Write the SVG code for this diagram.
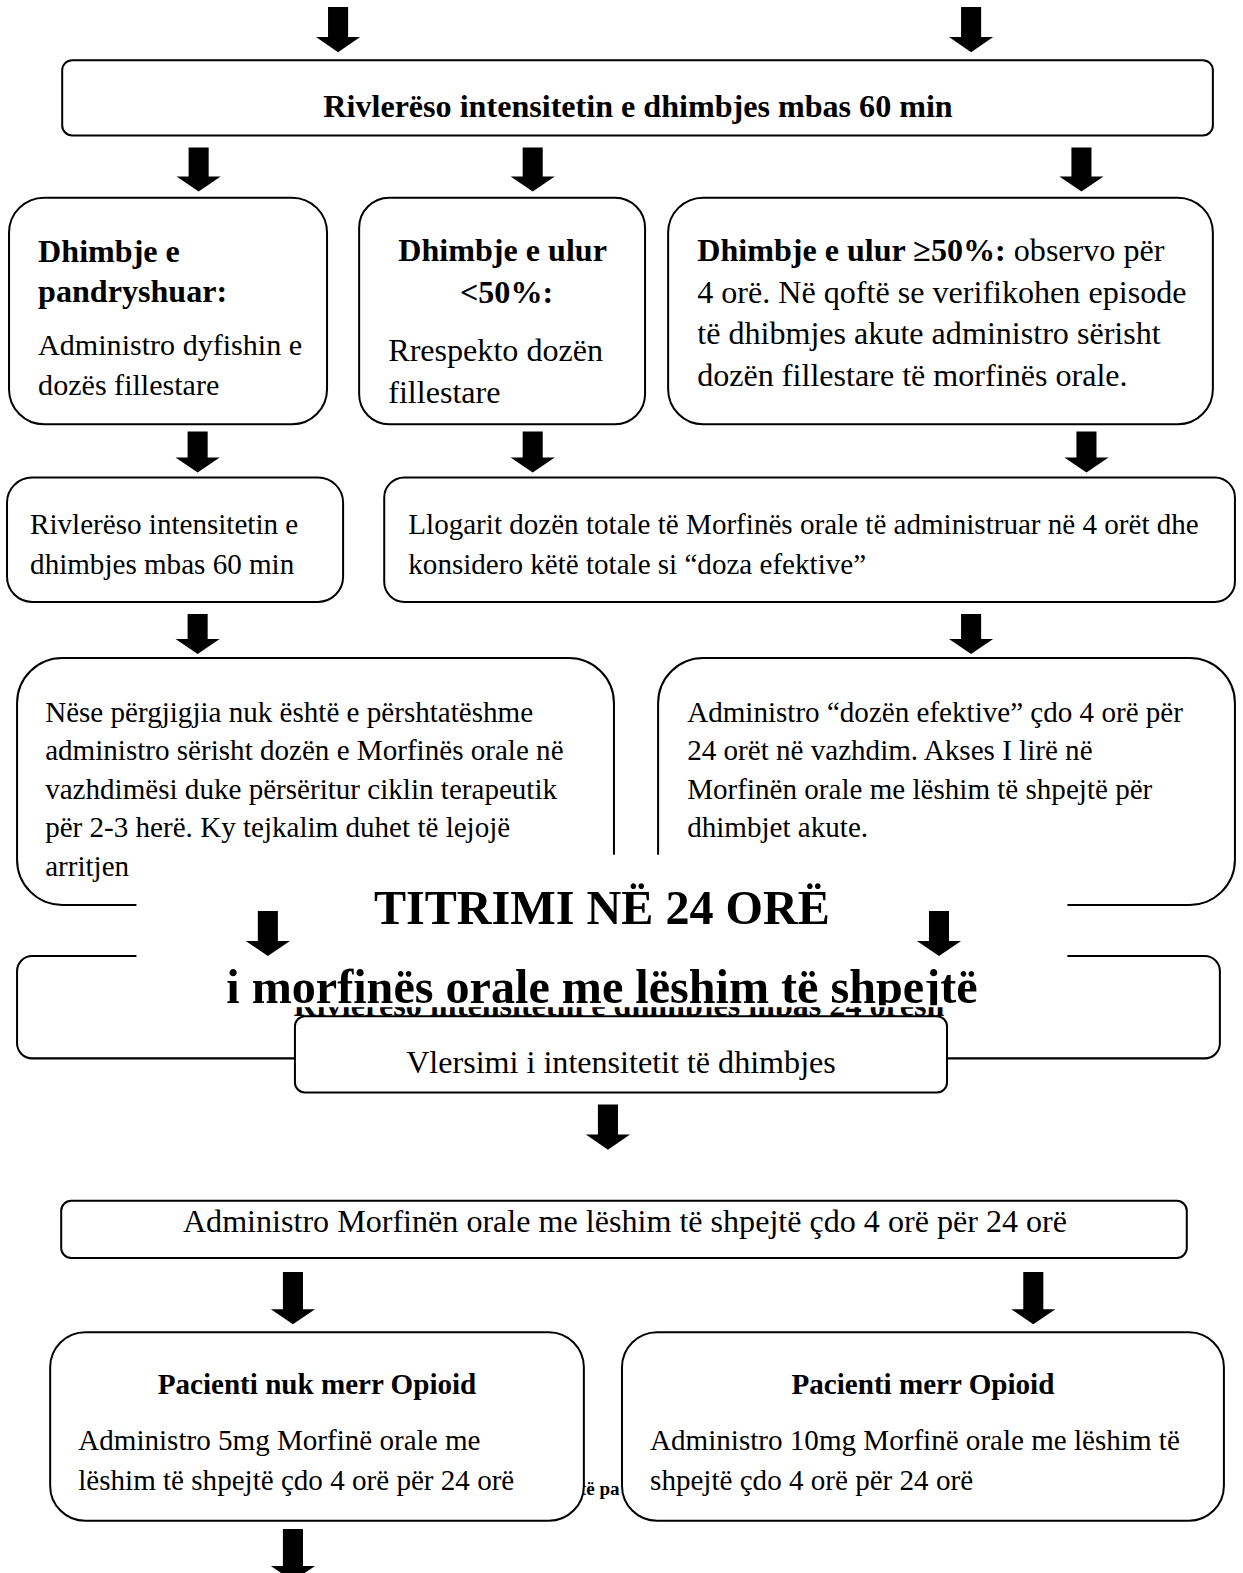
<svg xmlns="http://www.w3.org/2000/svg" width="1243" height="1573" viewBox="0 0 1243 1573">
<defs>
<style>
.box{fill:#fff;stroke:#000;stroke-width:2}
.t{font-family:"Liberation Serif","Times New Roman",serif;fill:#000}
.r29{font-size:29px}
.r30{font-size:30px}
.r32{font-size:32px}
.b{font-weight:bold}
.mid{text-anchor:middle}
.arrow{fill:#000}
</style>
<clipPath id="titleclip"><rect x="136" y="852" width="928" height="150"/></clipPath>
</defs>
<rect width="1243" height="1573" fill="#fff"/>
<g id="diagram" transform="scale(1.0032)">

<g id="nodeA">
<rect class="box" x="62" y="60" width="1147" height="75" rx="10"/>
<text class="t r32 b mid" x="636" y="117">Rivlerëso intensitetin e dhimbjes mbas 60 min</text>
</g>

<g id="nodeB1">
<rect class="box" x="9" y="197" width="317" height="226" rx="35"/>
<text class="t r32 b" x="38" y="261">Dhimbje e</text>
<text class="t r32 b" x="38" y="301">pandryshuar:</text>
<text class="t r30" x="38" y="354">Administro dyfishin e</text>
<text class="t r30" x="38" y="394">dozës fillestare</text>
</g>

<g id="nodeB2">
<rect class="box" x="358" y="197" width="285" height="226" rx="30"/>
<text class="t r32 b mid" x="501" y="260">Dhimbje e ulur</text>
<text class="t r32 b mid" x="505" y="302">&lt;50%:</text>
<text class="t r32" x="387" y="360">Rrespekto dozën</text>
<text class="t r32" x="387" y="402">fillestare</text>
</g>

<g id="nodeB3">
<rect class="box" x="666" y="197" width="543" height="226" rx="35"/>
<text class="t r32" x="695" y="260"><tspan class="b">Dhimbje e ulur ≥50%:</tspan> observo për</text>
<text class="t r32" x="695" y="302">4 orë. Në qoftë se verifikohen episode</text>
<text class="t r32" x="695" y="343">të dhibmjes akute administro sërisht</text>
<text class="t r32" x="695" y="385">dozën fillestare të morfinës orale.</text>
</g>

<g id="nodeC1">
<rect class="box" x="7" y="476" width="335" height="124" rx="25"/>
<text class="t r29" x="30" y="532">Rivlerëso intensitetin e</text>
<text class="t r29" x="30" y="572">dhimbjes mbas 60 min</text>
</g>

<g id="nodeC2">
<rect class="box" x="383" y="476" width="848" height="124" rx="20"/>
<text class="t r29" x="407" y="532">Llogarit dozën totale të Morfinës orale të administruar në 4 orët dhe</text>
<text class="t r29" x="407" y="572">konsidero këtë totale si “doza efektive”</text>
</g>

<g id="nodeD1">
<rect class="box" x="17" y="656" width="595" height="246" rx="45"/>
<text class="t r29" x="45" y="720">Nëse përgjigjia nuk është e përshtatëshme</text>
<text class="t r29" x="45" y="758">administro sërisht dozën e Morfinës orale në</text>
<text class="t r29" x="45" y="796">vazhdimësi duke përsëritur ciklin terapeutik</text>
<text class="t r29" x="45" y="834">për 2-3 herë. Ky tejkalim duhet të lejojë</text>
<text class="t r29" x="45" y="873">arritjen</text>
</g>

<g id="nodeD2">
<rect class="box" x="656" y="656" width="575" height="246" rx="45"/>
<text class="t r29" x="685" y="720">Administro “dozën efektive” çdo 4 orë për</text>
<text class="t r29" x="685" y="758">24 orët në vazhdim. Akses I lirë në</text>
<text class="t r29" x="685" y="796">Morfinën orale me lëshim të shpejtë për</text>
<text class="t r29" x="685" y="834">dhimbjet akute.</text>
</g>

<g id="nodeE">
<rect class="box" x="17" y="953" width="1199" height="102" rx="15"/>
<text class="t r32 b mid" x="617" y="1013">Rivlerëso intensitetin e dhimbjes mbas 24 orësh</text>
</g>

<g id="titleOverlay">
<rect x="136" y="852" width="928" height="152" fill="#fff"/>
<text class="t b mid" style="font-size:48px" x="600" y="921">TITRIMI NË 24 ORË</text>
<text class="t b mid" style="font-size:48px" x="600" y="1000" clip-path="url(#titleclip)">i morfinës orale me lëshim të shpejtë</text>
</g>

<g id="connectors">
<path class="arrow" d="M327 7H347V37H359L337 52L315 37H327Z"/>
<path class="arrow" d="M958 7H978V37H990L968 52L946 37H958Z"/>
<path class="arrow" d="M188 147H208V176H220L198 191L176 176H188Z"/>
<path class="arrow" d="M521 147H541V176H553L531 191L509 176H521Z"/>
<path class="arrow" d="M1068 147H1088V176H1100L1078 191L1056 176H1068Z"/>
<path class="arrow" d="M187 430H207V456H219L197 471L175 456H187Z"/>
<path class="arrow" d="M521 430H541V456H553L531 471L509 456H521Z"/>
<path class="arrow" d="M1073 430H1093V456H1105L1083 471L1061 456H1073Z"/>
<path class="arrow" d="M187 612H207V637H219L197 652L175 637H187Z"/>
<path class="arrow" d="M958 612H978V637H990L968 652L946 637H958Z"/>
<path class="arrow" d="M257 908H277V938H289L267 953L245 938H257Z"/>
<path class="arrow" d="M926 908H946V938H958L936 953L914 938H926Z"/>
<path class="arrow" d="M596 1101H616V1131H628L606 1146L584 1131H596Z"/>
<path class="arrow" d="M282 1268H302V1305H314L292 1320L270 1305H282Z"/>
<path class="arrow" d="M1020 1268H1040V1305H1052L1030 1320L1008 1305H1020Z"/>
<path class="arrow" d="M282 1524H302V1561H314L292 1576L270 1561H282Z"/>
</g>

<g id="nodeF">
<rect class="box" x="294" y="1013" width="650" height="76" rx="10"/>
<text class="t r32 mid" x="619" y="1070">Vlersimi i intensitetit të dhimbjes</text>
</g>

<g id="nodeG">
<rect class="box" x="61" y="1197" width="1122" height="57" rx="10"/>
<text class="t r32 mid" x="623" y="1228">Administro Morfinën orale me lëshim të shpejtë çdo 4 orë për 24 orë</text>
</g>

<text class="t b" style="font-size:19px" x="578" y="1490">të pa</text>

<g id="nodeH1">
<rect class="box" x="50" y="1328" width="532" height="188" rx="35"/>
<text class="t r29 b mid" x="316" y="1390">Pacienti nuk merr Opioid</text>
<text class="t r29" x="78" y="1445">Administro 5mg Morfinë orale me</text>
<text class="t r29" x="78" y="1485">lëshim të shpejtë çdo 4 orë për 24 orë</text>
</g>

<g id="nodeH2">
<rect class="box" x="620" y="1328" width="600" height="188" rx="35"/>
<text class="t r29 b mid" x="920" y="1390">Pacienti merr Opioid</text>
<text class="t r29" x="648" y="1445">Administro 10mg Morfinë orale me lëshim të</text>
<text class="t r29" x="648" y="1485">shpejtë çdo 4 orë për 24 orë</text>
</g>
</g>
</svg>
